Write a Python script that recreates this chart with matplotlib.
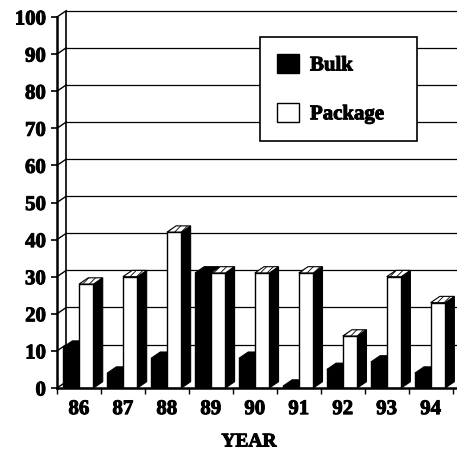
from __future__ import annotations

import matplotlib

matplotlib.use("Agg")
import matplotlib.patheffects as pe
import matplotlib.pyplot as plt
import numpy as np
from matplotlib.patches import Patch, Polygon

years = ["86", "87", "88", "89", "90", "91", "92", "93", "94"]
bulk = [11, 4, 8, 31, 8, 0.5, 5, 7, 4]
package = [28, 30, 42, 31, 31, 31, 14, 30, 23]
y_ticks = list(range(0, 101, 10))

# fake 3d depth, in data units
DX = 0.21
DY = 1.7

HEAVY = [pe.withStroke(linewidth=0.7, foreground="black")]


def _bar3d(ax, x0: float, w: float, v: float, front: str, hatch_top: bool) -> None:
    x1 = x0 + w
    side = Polygon([(x1, 0), (x1 + DX, DY), (x1 + DX, v + DY), (x1, v)],
                   closed=True, facecolor="black", edgecolor="black", lw=0.8,
                   zorder=2)
    top = Polygon([(x0, v), (x0 + DX, v + DY), (x1 + DX, v + DY), (x1, v)],
                  closed=True, facecolor="white" if hatch_top else "black",
                  edgecolor="black", lw=0.8, hatch="/////" if hatch_top else None,
                  zorder=2)
    ax.add_patch(side)
    ax.add_patch(top)
    ax.bar(x0, v, width=w, align="edge", color=front, edgecolor="black",
           linewidth=1.0, zorder=3)


def main() -> int:
    plt.rcParams["font.family"] = ["Liberation Serif", "DejaVu Serif"]
    plt.rcParams["font.weight"] = "bold"
    plt.rcParams["hatch.linewidth"] = 0.6

    fig = plt.figure(figsize=(4.57, 4.64), dpi=100)
    ax = fig.add_axes([57 / 457, 75 / 464, 400 / 457, 371 / 464])
    n = len(years)
    x = np.arange(n)
    ax.set_xlim(-0.5, 8.6)
    ax.set_ylim(0, 100)

    # back wall grid
    ax.hlines([v + DY for v in y_ticks[1:]], -0.5 + DX, 8.6, color="black",
              lw=0.9, clip_on=False, zorder=1)
    ax.vlines(-0.5 + DX, DY, 100 + DY, color="black", lw=1.2, clip_on=False, zorder=1)
    for v in y_ticks:
        ax.plot([-0.5, -0.5 + DX], [v, v + DY], color="black", lw=1.0,
                clip_on=False, zorder=1)

    w = 0.33
    for i in range(n):
        _bar3d(ax, x[i] - 0.36, w, bulk[i], "black", False)
        _bar3d(ax, x[i], w, package[i], "white", True)

    for s in ("top", "right"):
        ax.spines[s].set_visible(False)
    for s in ("left", "bottom"):
        ax.spines[s].set_linewidth(1.8)
        ax.spines[s].set_zorder(5)

    ax.set_yticks(y_ticks)
    ax.set_yticklabels([str(v) for v in y_ticks], fontsize=15)
    ax.tick_params(axis="y", direction="out", length=4, width=1.2, pad=4)
    ax.set_xticks(x)
    ax.set_xticklabels(years, fontsize=15)
    ax.set_xticks(np.arange(-0.5, n, 1.0), minor=True)
    ax.tick_params(axis="x", which="major", length=0, pad=8)
    ax.tick_params(axis="x", which="minor", direction="out", length=4, width=1.0)
    for t in ax.get_xticklabels() + ax.get_yticklabels():
        t.set_path_effects(HEAVY)

    fig.text(249 / 457, 1 - 443 / 464, "YEAR", ha="center", va="center",
             fontsize=14, fontweight="bold", path_effects=HEAVY)

    handles = [Patch(facecolor="black", edgecolor="black"),
               Patch(facecolor="white", edgecolor="black")]
    leg = ax.legend(handles, ["Bulk", "Package"], loc="upper left",
                    bbox_to_anchor=(260 / 457, 0.5, 157 / 457, 1 - 38 / 464 - 0.5),
                    bbox_transform=fig.transFigure, mode="expand",
                    borderaxespad=0, fontsize=15, frameon=True, fancybox=False,
                    edgecolor="black", framealpha=1, handlelength=1.05,
                    handleheight=1.05, handletextpad=0.55, labelspacing=1.3,
                    borderpad=0.8)
    leg.get_frame().set_linewidth(1.2)
    leg.set_zorder(10)
    for t in leg.get_texts():
        t.set_path_effects(HEAVY)

    fig.savefig("out.png", dpi=100)
    plt.close(fig)
    return 0


if __name__ == "__main__":
    raise SystemExit(main())
